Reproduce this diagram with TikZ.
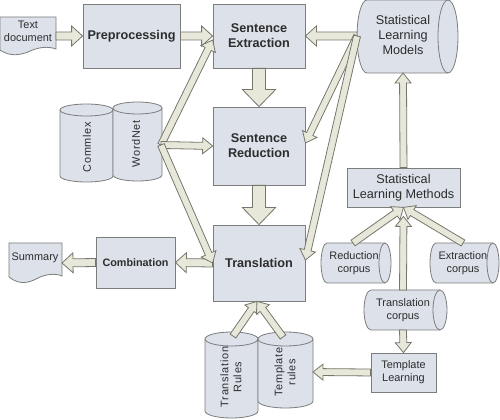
\documentclass[tikz,border=0pt]{standalone}
\usepackage{fontspec}
\setmainfont{Liberation Sans}
\newfontfamily\spacedfont[LetterSpace=6]{Liberation Sans}
\usetikzlibrary{calc}

\definecolor{boxfill}{RGB}{220,225,234}
\definecolor{boxline}{RGB}{125,125,125}
\definecolor{arrowfill}{RGB}{232,232,218}
\definecolor{arrowline}{RGB}{118,118,108}
\definecolor{labeltext}{RGB}{45,45,45}

\tikzset{every picture/.style={line width=0.6pt}}
\tikzset{
  box/.style={draw=boxline, fill=boxfill, align=center, text=labeltext, inner sep=0.75pt},
  shapebody/.style={draw=boxline, fill=boxfill},
  shapeedge/.style={draw=boxline},
  txt/.style={align=center, text=labeltext, inner sep=0.75pt},
  boldlabel/.style={font=\bfseries\fontsize{9.5}{11.4}\selectfont},
  smallbold/.style={font=\bfseries\fontsize{8.1}{9.7}\selectfont},
  plainlabel/.style={font=\fontsize{9.5}{11.6}\selectfont},
  smalllabel/.style={font=\fontsize{8.2}{9.8}\selectfont},
  spacedlabel/.style={font=\spacedfont\fontsize{8.2}{9.8}\selectfont},
  arrowbody/.style={draw=arrowline, fill=arrowfill, line join=miter},
  % sizes of the block arrows
  thin arrow/.code={\def\shaftw{3pt}\def\headw{7.5pt}\def\headl{8.25pt}},
  wide arrow/.code={\def\shaftw{4.9pt}\def\headw{12.4pt}\def\headl{12.75pt}},
  slim arrow/.code={\def\shaftw{2.6pt}\def\headw{6pt}\def\headl{7.5pt}},
}

% block arrow from #2 to #3
\newcommand{\blkarrow}[3][thin arrow]{%
  \begin{scope}[#1]
    \coordinate (bh) at ($(#3)!\headl!(#2)$);
    \draw[arrowbody] ($(#2)!\shaftw!90:(#3)$) -- ($(bh)!\shaftw!90:(#3)$)
      -- ($(bh)!\headw!90:(#3)$) -- (#3) -- ($(bh)!\headw!-90:(#3)$)
      -- ($(bh)!\shaftw!-90:(#3)$) -- ($(#2)!\shaftw!-90:(#3)$) -- cycle;
  \end{scope}}

\begin{document}
\begin{tikzpicture}[x=0.75pt,y=0.75pt,yscale=-1,xscale=1]
\useasboundingbox (0,0) rectangle (500,420);

%Shape: Document (input)
\draw[shapebody] (0,17) -- (56,17) -- (56,49) .. controls (48,46) and (38,47) .. (28,52) .. controls (20,55) and (10,57) .. (0,50) -- cycle;
\node[txt, smalllabel] (textdoc) at (28,31) {Text\\document};
\coordinate (textdoc-e) at (56,36);

%Shape: Document (output)
\draw[shapebody] (9,243) -- (62,243) -- (62,276) .. controls (55,273) and (45,274) .. (36,279) .. controls (30,282) and (20,286) .. (9,277) -- cycle;
\node[txt, smalllabel] (summary) at (35,258) {Summary};
\coordinate (summary-e) at (62,263);

% Processing steps
\node[box, boldlabel, minimum width=72.75pt, minimum height=48pt] (prep) at (131.5,36) {Preprocessing};
\node[box, boldlabel, minimum width=69pt, minimum height=48pt] (sext) at (259,36) {Sentence\\Extraction};
\node[box, boldlabel, minimum width=69pt, minimum height=58.5pt] (sred) at (259,146) {Sentence\\Reduction};
\node[box, boldlabel, minimum width=69pt, minimum height=57pt] (trans) at (259,263) {Translation};
\node[box, smallbold, minimum width=59.25pt, minimum height=38.25pt] (comb) at (135.5,262.5) {Combination};
\node[box, plainlabel, minimum width=84.75pt, minimum height=29.25pt] (slmeth) at (403.5,187.5) {Statistical\\Learning Methods};
\node[box, smalllabel, minimum width=48.75pt, minimum height=29.25pt] (tlearn) at (403.5,372.5) {Template\\Learning};

%Shape: Can (models)
\draw[shapebody] (367,0) -- (448,0) arc[start angle=-90, end angle=90, x radius=10, y radius=36.5] -- (367,73) arc[start angle=90, end angle=270, x radius=10, y radius=36.5] -- cycle;
\draw[shapeedge] (448,0) arc[start angle=-90, end angle=-270, x radius=10, y radius=36.5];
\node[txt, plainlabel] (slm) at (403,35) {Statistical\\Learning\\Models};
\coordinate (slm-s) at (403,73);
\coordinate (modhub) at (357,36);

%Shape: Can (corpora)
\draw[shapebody] (327,243) -- (385,243) arc[start angle=-90, end angle=90, x radius=6, y radius=20] -- (327,283) arc[start angle=90, end angle=270, x radius=6, y radius=20] -- cycle;
\draw[shapeedge] (385,243) arc[start angle=-90, end angle=-270, x radius=6, y radius=20];
\node[txt, smalllabel] (redc) at (354,263) {Reduction\\corpus};
\coordinate (redc-n) at (353,243);

\draw[shapebody] (436,243) -- (493,243) arc[start angle=-90, end angle=90, x radius=6, y radius=20] -- (436,283) arc[start angle=90, end angle=270, x radius=6, y radius=20] -- cycle;
\draw[shapeedge] (493,243) arc[start angle=-90, end angle=-270, x radius=6, y radius=20];
\node[txt, smalllabel] (extc) at (463,263) {Extraction\\corpus};
\coordinate (extc-n) at (463,243);

\draw[shapebody] (371,290) -- (440,290) arc[start angle=-90, end angle=90, x radius=7, y radius=20] -- (371,330) arc[start angle=90, end angle=270, x radius=7, y radius=20] -- cycle;
\draw[shapeedge] (440,290) arc[start angle=-90, end angle=-270, x radius=7, y radius=20];
\node[txt, smalllabel] (tranc) at (403,310) {Translation\\corpus};
\coordinate (tranc-n) at (403,290);
\coordinate (tranc-s) at (403,330);

%Shape: Can (lexicons)
\draw[shapebody] (60,110) -- (60,176) arc[start angle=180, end angle=0, x radius=26.5, y radius=6] -- (113,110) arc[start angle=0, end angle=-180, x radius=26.5, y radius=6] -- cycle;
\draw[shapeedge] (60,110) arc[start angle=180, end angle=0, x radius=26.5, y radius=6];
\node[txt, spacedlabel, rotate=90] (commlex) at (87,147) {Commlex};

\draw[shapebody] (113,108) -- (113,175) arc[start angle=180, end angle=0, x radius=24.5, y radius=6] -- (162,108) arc[start angle=0, end angle=-180, x radius=24.5, y radius=6] -- cycle;
\draw[shapeedge] (113,108) arc[start angle=180, end angle=0, x radius=24.5, y radius=6];
\node[txt, spacedlabel, rotate=90] (wordnet) at (136,144) {WordNet};
\coordinate (lexhub) at (161,145);

%Shape: Can (rules)
\draw[shapebody] (205,339) -- (205,411) arc[start angle=180, end angle=0, x radius=26.5, y radius=7] -- (258,339) arc[start angle=0, end angle=-180, x radius=26.5, y radius=7] -- cycle;
\draw[shapeedge] (205,339) arc[start angle=180, end angle=0, x radius=26.5, y radius=7];
\node[txt, spacedlabel, rotate=90] (trules) at (231,377) {Translation\\Rules};
\coordinate (trules-n) at (233,336);

\draw[shapebody] (258,339) -- (258,401) arc[start angle=180, end angle=0, x radius=27.5, y radius=7] -- (313,339) arc[start angle=0, end angle=-180, x radius=27.5, y radius=7] -- cycle;
\draw[shapeedge] (258,339) arc[start angle=180, end angle=0, x radius=27.5, y radius=7];
\node[txt, spacedlabel, rotate=90] (tplrules) at (285,372) {Template\\rules};
\coordinate (tplrules-n) at (283,337);
\coordinate (tplrules-e) at (313,372);

% Main chain
\blkarrow{textdoc-e}{prep.west}
\blkarrow{prep.east}{sext.west}
\blkarrow[wide arrow]{sext.south}{sred.north}
\blkarrow[wide arrow]{sred.south}{trans.north}
\blkarrow{trans.west}{comb.east}
\blkarrow{comb.west}{summary-e}

% Lexicons feed all three steps
\blkarrow[slim arrow]{lexhub}{$(sext.west)+(0,4)$}
\blkarrow[slim arrow]{lexhub}{sred.west}
\blkarrow[slim arrow]{lexhub}{trans.west}

% Models feed all three steps
\blkarrow{modhub}{sext.east}
\blkarrow[slim arrow]{modhub}{$(sred.east)+(0,-3)$}
\blkarrow[slim arrow]{modhub}{$(trans.east)+(0,-3)$}

% Learning side
\blkarrow[slim arrow]{slmeth.north}{slm-s}
\blkarrow[slim arrow]{tranc-n}{$(slmeth.south)+(0,9)$}
\blkarrow[slim arrow]{redc-n}{slmeth.south}
\blkarrow[slim arrow]{extc-n}{slmeth.south}
\blkarrow[slim arrow]{tranc-s}{tlearn.north}
\blkarrow[slim arrow]{tlearn.west}{tplrules-e}
\blkarrow[slim arrow]{trules-n}{$(trans.south)+(-2,0)$}
\blkarrow[slim arrow]{tplrules-n}{$(trans.south)+(-2,0)$}

\end{tikzpicture}
\end{document}
